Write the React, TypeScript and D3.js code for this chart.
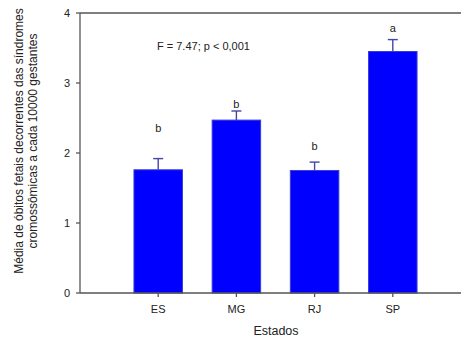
import React from "react";
import * as d3 from "d3";

// values
const estados = ["ES", "MG", "RJ", "SP"];
const medias = [1.76, 2.47, 1.75, 3.45];
const erros = [0.16, 0.13, 0.12, 0.17];
const letras = ["b", "b", "b", "a"];
const letraPos = [2.3, 2.64, 2.04, 3.73];
const yTicks = [0, 1, 2, 3, 4];

const W = 461;
const H = 338;
const plot = { left: 80, top: 13, bottom: 293, right: 471 };
const font = "Arial, 'Liberation Sans', sans-serif";

const App = () => {
  const x = d3.scaleLinear().domain([0, 5]).range([plot.left, plot.right]);
  const y = d3.scaleLinear().domain([0, 4]).range([plot.bottom, plot.top]);
  const barW = (x(1) - x(0)) * 0.62;
  const axisColor = "#555";

  return (
    <svg
      width={W}
      height={H}
      style={{ position: "absolute", left: 0, top: 0, background: "#fff" }}
      fontFamily={font}
    >
      {/* bars */}
      <g className="bars">
        {estados.map((e, i) => (
          <rect
            key={e}
            x={x(i + 1) - barW / 2}
            y={y(medias[i])}
            width={barW}
            height={y(0) - y(medias[i])}
            fill="#0000ff"
            stroke="#3b3bd6"
            strokeWidth={1}
          />
        ))}
      </g>
      {/* error bars */}
      <g className="errors" stroke="#4444aa" strokeWidth={1.4}>
        {estados.map((e, i) => (
          <g key={e}>
            <line
              x1={x(i + 1)}
              x2={x(i + 1)}
              y1={y(medias[i])}
              y2={y(medias[i] + erros[i])}
            />
            <line
              x1={x(i + 1) - 5}
              x2={x(i + 1) + 5}
              y1={y(medias[i] + erros[i])}
              y2={y(medias[i] + erros[i])}
            />
          </g>
        ))}
      </g>
      {/* letters */}
      <g className="letters" fontSize={11} fill="#222" textAnchor="middle">
        {estados.map((e, i) => (
          <text key={e} x={x(i + 1)} y={y(letraPos[i])}>
            {letras[i]}
          </text>
        ))}
      </g>
      {/* frame */}
      <g stroke={axisColor} strokeWidth={1.3} fill="none">
        <line x1={plot.left} x2={W} y1={plot.top} y2={plot.top} />
        <line x1={plot.left} x2={plot.left} y1={plot.top} y2={plot.bottom} />
        <line x1={plot.left} x2={W} y1={plot.bottom} y2={plot.bottom} />
      </g>
      {/* y axis */}
      <g className="yAxis">
        {yTicks.map((t) => (
          <g key={t}>
            <line
              x1={plot.left - 4}
              x2={plot.left}
              y1={y(t)}
              y2={y(t)}
              stroke={axisColor}
              strokeWidth={1.3}
            />
            <text
              x={plot.left - 10}
              y={y(t)}
              dy="0.35em"
              textAnchor="end"
              fontSize={11}
              fill="#222"
            >
              {t}
            </text>
          </g>
        ))}
      </g>
      {/* x axis */}
      <g className="xAxis">
        {estados.map((e, i) => (
          <g key={e}>
            <line
              x1={x(i + 1)}
              x2={x(i + 1)}
              y1={plot.bottom}
              y2={plot.bottom + 4}
              stroke={axisColor}
              strokeWidth={1.3}
            />
            <text
              x={x(i + 1)}
              y={plot.bottom + 20}
              textAnchor="middle"
              fontSize={11}
              fill="#222"
            >
              {e}
            </text>
          </g>
        ))}
      </g>
      <text x={276} y={335} textAnchor="middle" fontSize={12.5} fill="#222">
        Estados
      </text>
      <text x={157} y={50} fontSize={11} fill="#222">
        F = 7.47; p &lt; 0,001
      </text>
      <g transform="translate(0,141) rotate(-90)" textAnchor="middle" fontSize={12} fill="#222">
        <text x={0} y={23}>
          Média de óbitos fetais decorrentes das síndromes
        </text>
        <text x={0} y={37}>
          cromossômicas a cada 10000 gestantes
        </text>
      </g>
    </svg>
  );
};

export default App;
